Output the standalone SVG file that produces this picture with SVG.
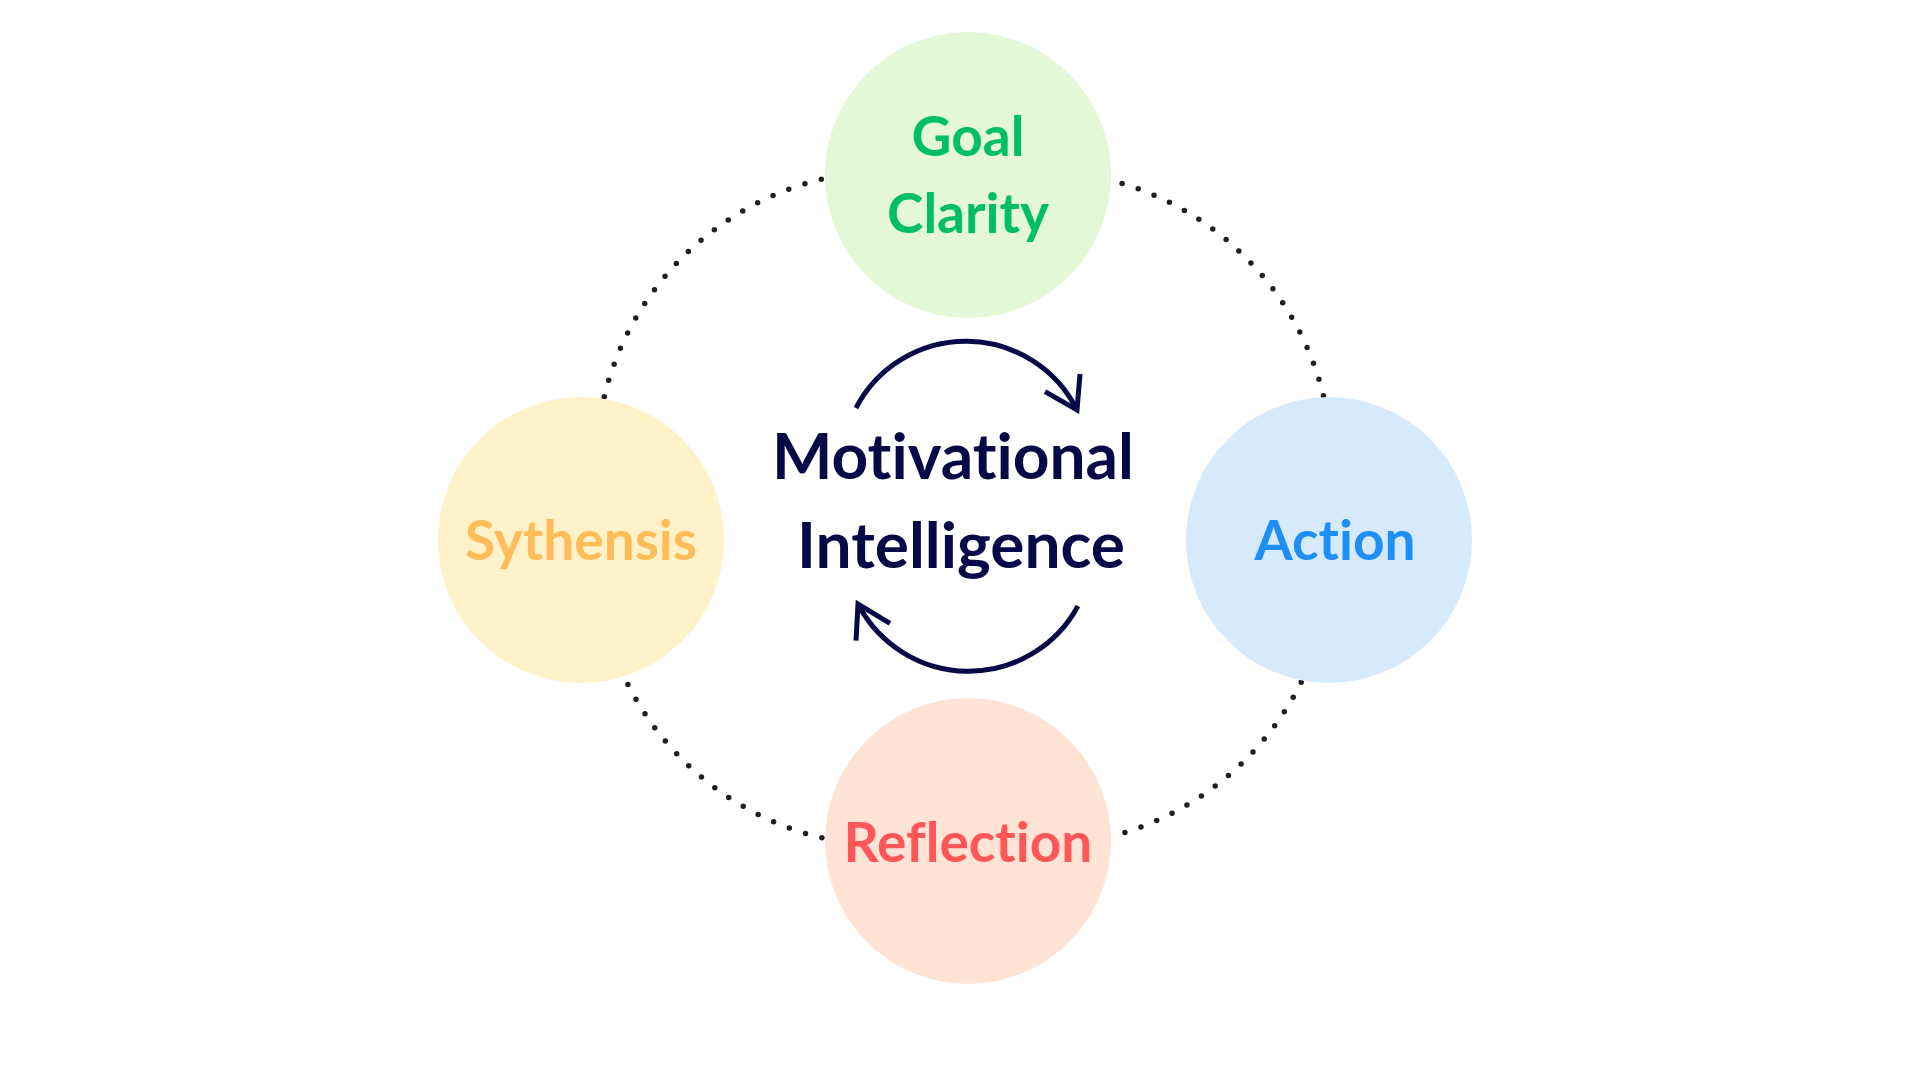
<svg xmlns="http://www.w3.org/2000/svg" width="1920" height="1080" viewBox="0 0 1920 1080">
  <style>
    .lbl { font-family: Lato, "Liberation Sans", sans-serif; font-weight: 700; font-size: 55px; text-anchor: middle; font-variant-ligatures: none; }
    .center { font-family: Lato, "Liberation Sans", sans-serif; font-weight: 700; font-size: 64px; text-anchor: middle; fill: #070846; font-variant-ligatures: none; }
    .dots { fill: none; stroke: #231f20; stroke-width: 5.5; stroke-linecap: round; stroke-dasharray: 0 17; }
    .cyc { fill: none; stroke: #070846; stroke-width: 5; stroke-linecap: butt; stroke-linejoin: miter; }
  </style>
  <rect width="1920" height="1080" fill="#ffffff"/>
  <g id="connectors">
    <path class="dots" d="M821.3,179.3 A295,295 0 0 0 604.1,397.3"/>
    <path class="dots" d="M1122.1,183.5 A295,295 0 0 1 1323.5,395.9"/>
    <path class="dots" d="M627.9,684.5 A295,295 0 0 0 822.6,838"/>
    <path class="dots" d="M1301.2,682.2 A295,295 0 0 1 1124.2,832.8"/>
  </g>
  <g id="node-goal-clarity">
    <circle cx="968" cy="175" r="143" fill="#e4f8d7"/>
    <text class="lbl" x="968" y="156" fill="#00bf63">Goal</text>
    <text class="lbl" x="968" y="233" fill="#00bf63">Clarity</text>
  </g>
  <g id="node-synthesis">
    <circle cx="581" cy="540" r="143" fill="#fff2c9"/>
    <text class="lbl" x="581" y="560" fill="#ffbc58">Sythensis</text>
  </g>
  <g id="node-action">
    <circle cx="1329" cy="540" r="143" fill="#d6eafc"/>
    <text class="lbl" x="1335" y="560" fill="#1e8ff7">Action</text>
  </g>
  <g id="node-reflection">
    <circle cx="968" cy="841" r="143" fill="#ffe4d6"/>
    <text class="lbl" x="968" y="862" fill="#ff5757">Reflection</text>
  </g>
  <g id="node-center">
    <path class="cyc" d="M856,408 A124,124 0 0 1 1077,410"/>
    <polyline class="cyc" points="1045,391.7 1077,410 1080,374"/>
    <path class="cyc" d="M1078,606 A124.5,124.5 0 0 1 858,604"/>
    <polyline class="cyc" points="890,623.3 858,604 856,640.7"/>
    <text class="center" x="953" y="479">Motivational</text>
    <text class="center" x="961" y="568">Intelligence</text>
  </g>
</svg>
